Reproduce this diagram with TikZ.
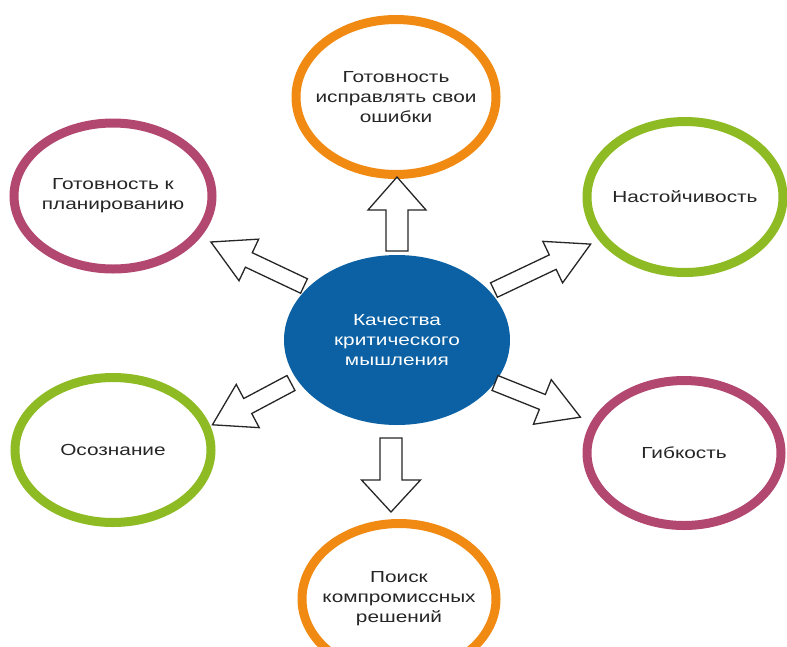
\documentclass[tikz,border=0pt]{standalone}
\usepackage{fontspec}
\setmainfont{Liberation Sans}
\newfontfamily\labfont[FakeStretch=1.3]{Liberation Sans}
\usetikzlibrary{shapes.geometric}
\definecolor{cOrange}{HTML}{F08A12}
\definecolor{cMaroon}{HTML}{B2476F}
\definecolor{cGreen}{HTML}{8EBB24}
\definecolor{cBlue}{HTML}{0B61A4}
\definecolor{cText}{HTML}{262626}
\begin{document}
\begin{tikzpicture}[x=1pt,y=-1pt,
  ring/.style={ellipse, draw, line width=9pt, fill=white, inner sep=0pt},
  lbl/.style={inner sep=0pt, align=center, text=cText,
    font=\labfont\fontsize{16pt}{20pt}\selectfont},
  hub/.style={ellipse, fill=cBlue, inner sep=0pt},
  hublbl/.style={inner sep=0pt, align=center, text=white,
    font=\labfont\fontsize{16pt}{20pt}\selectfont},
  blockarr/.style={draw=black!85, fill=white, line width=1.3pt, line join=miter}]
\useasboundingbox (0,0) rectangle (787,646);
\clip (0,0) rectangle (787,646);

% outer ellipses
\node[ring, draw=cOrange, minimum width=200pt, minimum height=155pt] (top) at (396,97) {};
\node[lbl] at (top) {Готовность\\исправлять свои\\ошибки};
\node[ring, draw=cMaroon, minimum width=198pt, minimum height=146pt] (plan) at (113,196) {};
\node[lbl] at (plan) {Готовность к\\планированию};
\node[ring, draw=cGreen, minimum width=196pt, minimum height=151pt] (nast) at (685,197) {};
\node[lbl] at (nast) {Настойчивость};
\node[ring, draw=cGreen, minimum width=196pt, minimum height=145pt] (osoz) at (113,450) {};
\node[lbl] at (osoz) {Осознание};
\node[ring, draw=cMaroon, minimum width=194pt, minimum height=145pt] (gib) at (684,453) {};
\node[lbl] at (gib) {Гибкость};
\node[ring, draw=cOrange, minimum width=194pt, minimum height=151pt] (poisk) at (399,599) {};
\node[lbl] at (poisk) {Поиск\\компромиссных\\решений};

% hub
\node[hub, minimum width=226pt, minimum height=170pt] (hub) at (397,340) {};
\node[hublbl] at (hub) {Качества\\критического\\мышления};

% block arrows: tail coordinate, angle, length, shaft half, head half, head length
\coordinate (aTop) at (397,251);
\coordinate (aBot) at (391,438);
\coordinate (aTL) at (304,286);
\coordinate (aTR) at (494,290);
\coordinate (aBR) at (495,383);
\coordinate (aBL) at (291,383);
\foreach \t/\a/\L/\s/\h/\hl in {aTop/90/74/11/29/33, aBot/-90/74/11/29.5/32,
    aTL/154.7/103/8/23/42, aTR/25.4/107/8/23/42, aBR/-21.8/92/8/24/41, aBL/-152/89/8.5/24.5/40}
  \draw[blockarr, shift={(\t)}, rotate=\a]
    (0,\s) -- ({\L-\hl},\s) -- ({\L-\hl},\h) -- (\L,0) -- ({\L-\hl},-\h)
    -- ({\L-\hl},-\s) -- (0,-\s) -- cycle;
\end{tikzpicture}
\end{document}
